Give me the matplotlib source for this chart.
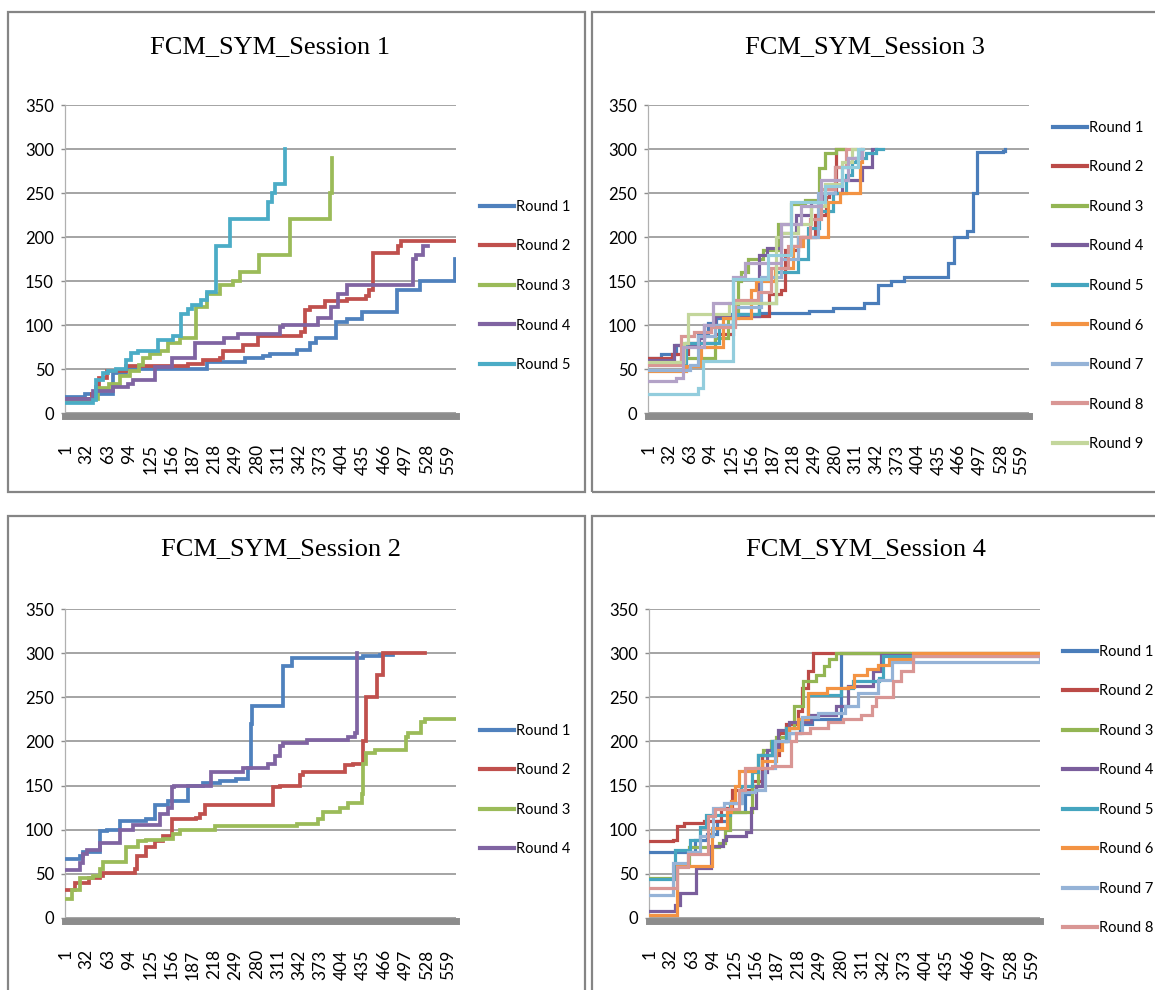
import matplotlib
matplotlib.use('Agg')
import matplotlib.pyplot as plt
from matplotlib.patches import Rectangle

# x axis categories and tick labels
x_ticks = [1, 32, 63, 94, 125, 156, 187, 218, 249, 280, 311, 342, 373, 404, 435, 466, 497, 528, 559]
y_ticks = [0, 50, 100, 150, 200, 250, 300, 350]
n_cat = 570

# ---- Session 1 (step breakpoints) ----
s1_r1_x = [1, 30, 70, 90, 207, 263, 289, 299, 338, 357, 367, 396, 411, 433, 484, 518, 569, 570]
s1_r1_y = [18, 22, 46, 50, 58, 62, 65, 67, 72, 80, 85, 103, 107, 115, 140, 150, 175, 175]
s1_r2_x = [1, 40, 46, 50, 62, 90, 180, 202, 226, 231, 260, 282, 345, 350, 357, 379, 411, 440, 443, 450, 486, 491, 570]
s1_r2_y = [16, 22, 30, 40, 48, 53, 56, 60, 63, 70, 77, 88, 92, 117, 120, 127, 130, 133, 140, 182, 190, 196, 196]
s1_r3_x = [1, 40, 48, 65, 80, 95, 109, 114, 124, 139, 151, 168, 192, 207, 226, 246, 255, 284, 328, 387, 390]
s1_r3_y = [12, 16, 28, 33, 42, 48, 55, 63, 67, 71, 80, 85, 120, 135, 145, 150, 160, 180, 220, 250, 290]
s1_r4_x = [1, 41, 70, 92, 100, 131, 156, 190, 233, 253, 314, 319, 370, 389, 399, 411, 508, 512, 523, 530]
s1_r4_y = [16, 25, 30, 33, 38, 52, 63, 80, 85, 90, 98, 100, 108, 120, 135, 145, 175, 180, 190, 190]
s1_r5_x = [1, 41, 46, 56, 63, 75, 90, 97, 107, 136, 158, 170, 180, 185, 199, 207, 221, 241, 297, 302, 306, 321]
s1_r5_y = [11, 15, 37, 45, 48, 50, 60, 68, 71, 83, 87, 113, 118, 123, 128, 137, 190, 220, 240, 250, 260, 300]

# ---- Session 2 ----
s2_r1_x = [1, 22, 27, 51, 61, 80, 119, 131, 151, 180, 202, 226, 250, 267, 271, 273, 319, 331, 435, 460, 479]
s2_r1_y = [67, 70, 75, 98, 100, 110, 112, 128, 133, 150, 153, 155, 158, 170, 220, 240, 285, 295, 297, 298, 298]
s2_r2_x = [1, 15, 36, 51, 56, 102, 105, 119, 131, 143, 156, 192, 197, 204, 304, 314, 343, 348, 408, 421, 435, 440, 455, 464, 525]
s2_r2_y = [32, 40, 45, 48, 51, 55, 70, 80, 87, 93, 112, 113, 118, 128, 148, 150, 162, 165, 173, 175, 200, 250, 275, 300, 300]
s2_r3_x = [1, 10, 22, 41, 51, 56, 90, 107, 119, 143, 158, 168, 219, 338, 370, 377, 401, 413, 433, 435, 440, 452, 498, 501, 520, 525, 570]
s2_r3_y = [22, 32, 45, 48, 55, 63, 80, 87, 88, 90, 95, 100, 104, 106, 112, 120, 125, 130, 140, 175, 187, 190, 205, 210, 222, 225, 225]
s2_r4_x = [1, 22, 27, 32, 51, 80, 100, 139, 151, 156, 160, 214, 260, 297, 306, 314, 319, 353, 413, 423, 426]
s2_r4_y = [54, 62, 72, 77, 85, 100, 105, 118, 125, 148, 150, 165, 170, 175, 183, 195, 198, 202, 205, 210, 300]

# ---- Session 3 (rounds 10, 11 are drawn but not in the legend) ----
s3_r1_x = [1, 20, 42, 75, 90, 102, 122, 167, 242, 277, 324, 344, 364, 384, 449, 459, 477, 486, 493, 531, 535]
s3_r1_y = [63, 67, 77, 90, 102, 108, 113, 114, 116, 119, 125, 146, 150, 155, 170, 200, 207, 250, 297, 298, 300]
s3_r2_x = [1, 37, 60, 100, 127, 182, 200, 205, 225, 250, 267, 272, 282, 292]
s3_r2_y = [62, 67, 80, 90, 110, 135, 140, 185, 200, 225, 245, 250, 300, 300]
s3_r3_x = [1, 50, 100, 120, 135, 140, 150, 172, 195, 215, 235, 257, 265, 282, 295]
s3_r3_y = [58, 62, 85, 108, 150, 160, 175, 185, 215, 238, 242, 278, 295, 300, 300]
s3_r4_x = [1, 40, 77, 85, 100, 167, 178, 200, 222, 245, 262, 290, 320, 336, 342]
s3_r4_y = [60, 77, 85, 100, 110, 180, 187, 205, 225, 240, 250, 265, 280, 300, 300]
s3_r5_x = [1, 57, 107, 127, 135, 167, 192, 225, 240, 257, 277, 297, 305, 312, 327, 342, 352]
s3_r5_y = [55, 80, 100, 110, 112, 125, 160, 175, 210, 230, 250, 270, 285, 290, 295, 300, 300]
s3_r6_x = [1, 57, 80, 112, 155, 162, 190, 217, 232, 270, 287, 317, 320, 322]
s3_r6_y = [48, 53, 75, 108, 140, 150, 165, 190, 200, 240, 250, 285, 300, 300]
s3_r7_x = [1, 63, 75, 100, 130, 170, 200, 225, 255, 280, 300, 318]
s3_r7_y = [49, 55, 88, 100, 120, 155, 175, 200, 250, 280, 290, 300]
s3_r8_x = [1, 50, 70, 95, 130, 165, 185, 210, 228, 243, 260, 280, 296, 310]
s3_r8_y = [55, 88, 92, 98, 128, 137, 165, 190, 200, 220, 255, 280, 300, 300]
s3_r9_x = [1, 55, 60, 122, 192, 200, 225, 245, 265, 290, 305, 312]
s3_r9_y = [58, 80, 112, 125, 200, 205, 215, 235, 260, 285, 300, 300]
s3_r10_x = [1, 43, 53, 85, 97, 128, 145, 200, 230, 260, 300, 320]
s3_r10_y = [36, 40, 75, 100, 125, 155, 170, 215, 235, 265, 290, 300]
s3_r11_x = [1, 75, 83, 128, 180, 215, 265, 290, 315, 322]
s3_r11_y = [22, 28, 59, 152, 180, 240, 258, 280, 300, 300]

# ---- Session 4 ----
s4_r1_x = [1, 68, 85, 99, 116, 140, 150, 165, 182, 200, 220, 238, 280, 380, 570]
s4_r1_y = [75, 88, 95, 110, 120, 140, 150, 185, 200, 210, 220, 225, 300, 298, 298]
s4_r2_x = [1, 36, 41, 52, 80, 105, 121, 150, 165, 190, 200, 218, 224, 232, 240, 570]
s4_r2_y = [87, 88, 104, 108, 110, 125, 145, 155, 185, 210, 220, 235, 260, 280, 300, 300]
s4_r3_x = [1, 39, 59, 103, 112, 118, 150, 160, 166, 178, 186, 200, 212, 225, 244, 256, 263, 273, 570]
s4_r3_y = [45, 60, 80, 85, 100, 120, 150, 185, 190, 200, 205, 215, 240, 268, 275, 285, 293, 300, 300]
s4_r4_x = [1, 39, 45, 69, 91, 108, 113, 142, 149, 157, 165, 172, 189, 205, 237, 273, 290, 327, 339, 570]
s4_r4_y = [8, 15, 28, 57, 82, 88, 93, 97, 125, 150, 165, 190, 213, 222, 230, 240, 263, 280, 298, 298]
s4_r5_x = [1, 38, 60, 75, 83, 118, 135, 150, 160, 180, 200, 220, 233, 280, 298, 336, 342, 570]
s4_r5_y = [44, 77, 88, 103, 117, 130, 150, 165, 185, 200, 215, 225, 253, 260, 268, 272, 297, 297]
s4_r6_x = [1, 41, 92, 114, 120, 126, 131, 155, 165, 185, 194, 205, 218, 233, 260, 290, 300, 318, 335, 350, 385, 570]
s4_r6_y = [3, 59, 102, 120, 133, 150, 167, 170, 178, 190, 200, 215, 225, 255, 260, 262, 275, 282, 287, 293, 300, 300]
s4_r7_x = [1, 36, 58, 75, 94, 110, 136, 155, 170, 184, 205, 223, 247, 286, 305, 335, 355, 570]
s4_r7_y = [26, 62, 75, 93, 125, 130, 143, 145, 170, 200, 210, 228, 232, 240, 255, 270, 290, 294]
s4_r8_x = [1, 41, 58, 87, 97, 131, 140, 180, 208, 215, 235, 262, 283, 310, 325, 332, 356, 368, 385, 570]
s4_r8_y = [34, 58, 73, 115, 123, 145, 170, 172, 200, 210, 215, 222, 225, 230, 240, 250, 268, 280, 297, 297]

colors_a = ['#4F81BD', '#C0504D', '#9BBB59', '#8064A2', '#4BACC6']
colors_b = ['#4A7DBA', '#BB4A47', '#93B553', '#7A5E9C', '#45A5BF', '#F39343',
            '#95B3D7', '#D99694', '#C3D69B', '#B3A2C7', '#93CDDD']

W, H = 1155, 990
fig = plt.figure(figsize=(W / 100, H / 100), dpi=100)


def fx(px):
    return px / W


def fy(py):
    return 1 - py / H


def draw_panel(box, plot_box, title, title_pos, series, colors, n_legend, leg_pos, lw):
    x0, y0, x1, y1 = box
    fig.patches.append(Rectangle((fx(x0), fy(y1)), fx(x1) - fx(x0), fy(y0) - fy(y1),
                                 transform=fig.transFigure, fill=False,
                                 ec='#858585', lw=1.6, zorder=0))
    fig.text(fx(title_pos[0]), fy(title_pos[1]), title, ha='center', va='center',
             family='Liberation Serif', size=19)

    l, t, r, b = plot_box
    ax = fig.add_axes([fx(l), fy(b), fx(r) - fx(l), fy(t) - fy(b)])
    for i, (xs, ys) in enumerate(series):
        label = 'Round %d' % (i + 1) if i < n_legend else '_nolegend_'
        ax.plot(xs, ys, drawstyle='steps-post', color=colors[i], lw=lw,
                label=label, solid_joinstyle='miter', zorder=3)

    # spines first: moving a spine resets the tick label styling
    for s in ['top', 'right']:
        ax.spines[s].set_visible(False)
    ax.spines['left'].set_color('#b0b0b0')
    ax.spines['left'].set_linewidth(0.9)
    ax.spines['bottom'].set_position(('outward', 2.5))
    ax.spines['bottom'].set_color('#8c8c8c')
    ax.spines['bottom'].set_linewidth(5)

    ax.set_xlim(0.5, n_cat + 0.5)
    ax.set_ylim(0, 350)
    ax.set_yticks(y_ticks)
    ax.set_xticks(x_ticks)
    ax.set_xticklabels([str(v) for v in x_ticks], rotation=90, family='Lato', size=12.5)
    ax.set_yticklabels([str(v) for v in y_ticks], family='Lato', size=12)
    ax.set_axisbelow(True)
    ax.grid(axis='y', color='#8c8c8c', lw=1.1)
    ax.grid(axis='x', visible=False)
    ax.tick_params(axis='y', length=3, width=1, color='#8c8c8c', pad=5)
    ax.tick_params(axis='x', length=0, pad=20)

    leg = ax.legend(loc='center left', bbox_to_anchor=(fx(leg_pos[0]), fy(leg_pos[1])),
                    bbox_transform=fig.transFigure, frameon=False,
                    prop={'family': 'Lato', 'size': 10.5}, handlelength=2.3,
                    handletextpad=0.15, labelspacing=1.75, borderpad=0, borderaxespad=0)
    for h in leg.get_lines():
        h.set_linewidth(3)
    return ax


draw_panel((8, 12, 585, 492), (65, 105, 456, 413), 'FCM_SYM_Session 1', (270, 47),
           [(s1_r1_x, s1_r1_y), (s1_r2_x, s1_r2_y), (s1_r3_x, s1_r3_y),
            (s1_r4_x, s1_r4_y), (s1_r5_x, s1_r5_y)],
           colors_a, 5, (480, 286), 2.7)

draw_panel((592, 12, 1170, 492), (648, 105, 1029, 413), 'FCM_SYM_Session 3', (865, 47),
           [(s3_r1_x, s3_r1_y), (s3_r2_x, s3_r2_y), (s3_r3_x, s3_r3_y),
            (s3_r4_x, s3_r4_y), (s3_r5_x, s3_r5_y), (s3_r6_x, s3_r6_y),
            (s3_r7_x, s3_r7_y), (s3_r8_x, s3_r8_y), (s3_r9_x, s3_r9_y),
            (s3_r10_x, s3_r10_y), (s3_r11_x, s3_r11_y)],
           colors_b, 9, (1053, 286), 2.3)

draw_panel((8, 516, 585, 1000), (65, 609, 456, 918), 'FCM_SYM_Session 2', (281, 549),
           [(s2_r1_x, s2_r1_y), (s2_r2_x, s2_r2_y), (s2_r3_x, s2_r3_y),
            (s2_r4_x, s2_r4_y)],
           colors_a, 4, (480, 790), 2.7)

draw_panel((592, 516, 1170, 1000), (649, 609, 1040, 918), 'FCM_SYM_Session 4', (866, 549),
           [(s4_r1_x, s4_r1_y), (s4_r2_x, s4_r2_y), (s4_r3_x, s4_r3_y),
            (s4_r4_x, s4_r4_y), (s4_r5_x, s4_r5_y), (s4_r6_x, s4_r6_y),
            (s4_r7_x, s4_r7_y), (s4_r8_x, s4_r8_y)],
           colors_b, 8, (1063, 790), 2.3)

fig.savefig('out.png', dpi=100)
